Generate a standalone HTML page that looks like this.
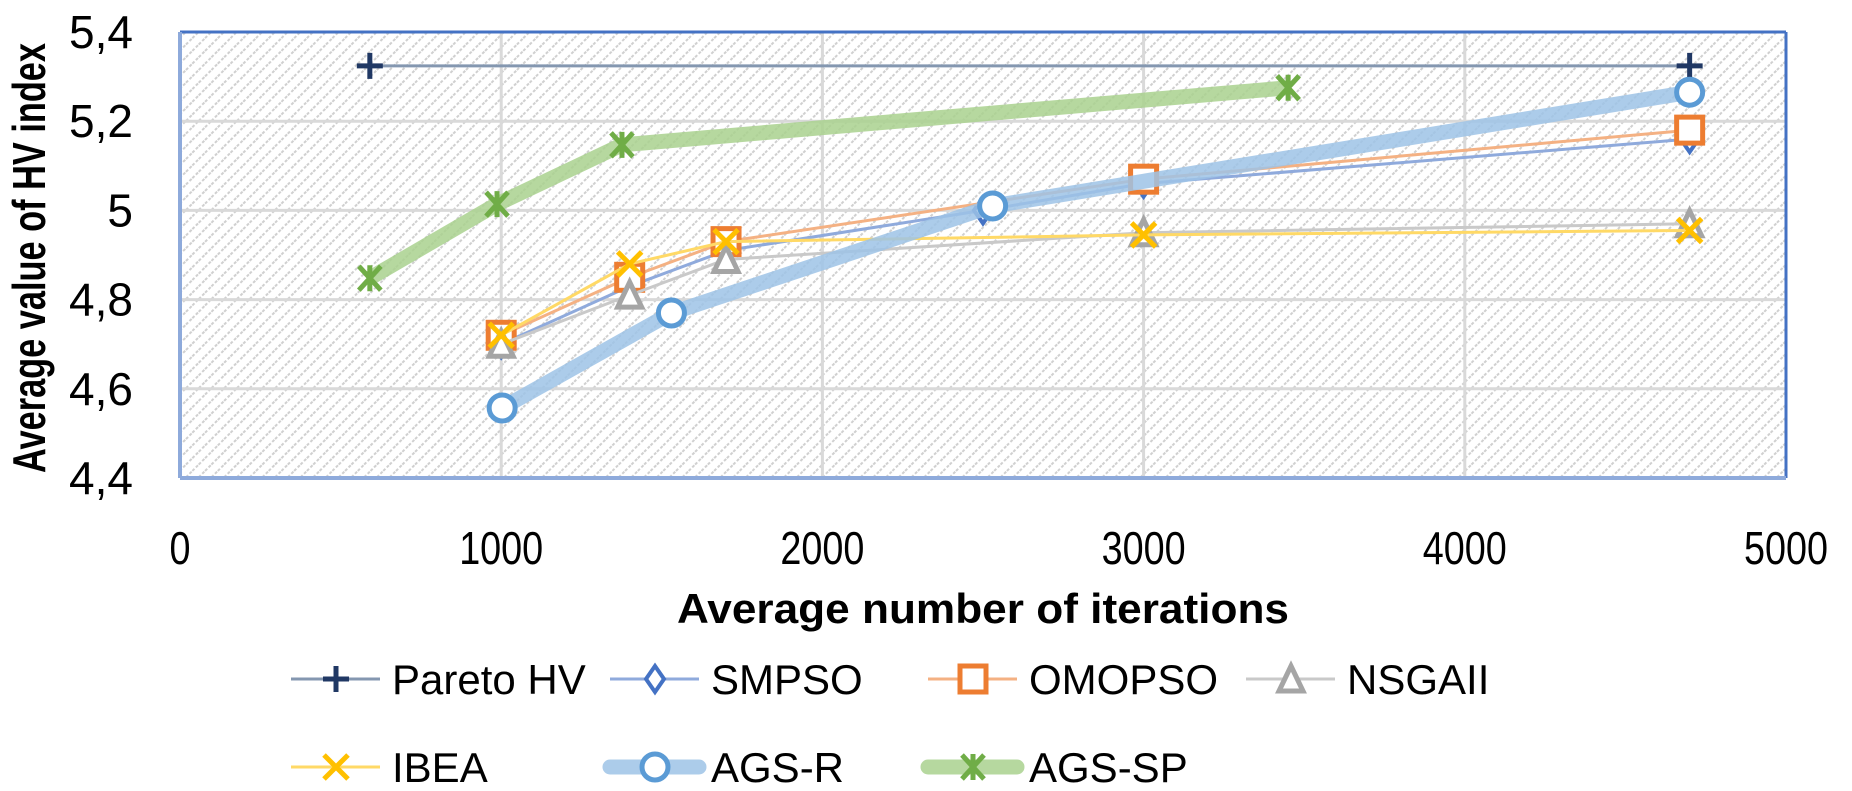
<!DOCTYPE html>
<html><head><meta charset="utf-8"><style>
html,body{margin:0;padding:0;background:#fff;}
svg{display:block;font-family:"Liberation Sans",sans-serif;}
</style></head><body>
<svg id="chart" width="1852" height="791" viewBox="0 0 1852 791">
<defs>
<pattern id="hatch" patternUnits="userSpaceOnUse" width="9" height="9" patternTransform="rotate(45)">
<rect width="9" height="9" fill="#fff"/>
<line x1="0" y1="0" x2="0" y2="9" stroke="#d0d0d0" stroke-width="4" stroke-dasharray="3 2"/>
</pattern>
</defs>
<g id="plot"></g>
</svg>
<script>
const xTicks=[0,1000,2000,3000,4000,5000];
const yTicks=[4.4,4.6,4.8,5.0,5.2,5.4];
const yTickLabels=["4,4","4,6","4,8","5","5,2","5,4"];
const seriesNames=["Pareto HV","SMPSO","OMOPSO","NSGAII","IBEA","AGS-R","AGS-SP"];
const paretoX=[591,4700], paretoY=[5.324,5.324];
const smpsoX=[1000,1400,1700,2500,3000,4700], smpsoY=[4.70,4.83,4.91,5.00,5.06,5.16];
const omopsoX=[1000,1400,1700,3000,4700], omopsoY=[4.72,4.85,4.93,5.07,5.18];
const nsgaX=[1000,1400,1700,3000,4700], nsgaY=[4.70,4.81,4.89,4.95,4.97];
const ibeaX=[1000,1400,1700,3000,4700], ibeaY=[4.72,4.88,4.93,4.945,4.955];
const agsrX=[1003,1530,2530,4700], agsrY=[4.557,4.77,5.01,5.265];
const agsspX=[591,987,1376,3450], agsspY=[4.848,5.014,5.147,5.275];

const L=180,R=1786,T=32,B=478;
const sx=v=>L+(v-0)/(5000-0)*(R-L);
const sy=v=>B-(v-4.4)/(5.4-4.4)*(B-T);
const NS="http://www.w3.org/2000/svg";
const g=document.getElementById('plot');
function mk(tag,attrs,parent){const e=document.createElementNS(NS,tag);for(const k in attrs)e.setAttribute(k,attrs[k]);(parent||g).appendChild(e);return e;}

const bg=mk('rect',{x:L,y:T,width:R-L,height:B-T,fill:'url(#hatch)'});


yTicks.forEach((v,i)=>{
  if(i>0&&i<yTicks.length-1){const l=mk('line',{x1:L,x2:R,y1:sy(v),y2:sy(v),stroke:'#d9d9d9','stroke-width':3});
  
  }
  const t=mk('text',{x:133,y:sy(v)+16,'text-anchor':'end','font-size':46,fill:'#000'});
  t.textContent=yTickLabels[i];
  
  
});
xTicks.forEach((v,i)=>{
  if(i>0&&i<xTicks.length-1){const l=mk('line',{y1:T,y2:B,x1:sx(v),x2:sx(v),stroke:'#d9d9d9','stroke-width':3});
  
  }
  const s=String(v);
  const t=mk('text',{x:sx(v),y:564,'text-anchor':'middle','font-size':46,fill:'#000',textLength:s.length*21,lengthAdjust:'spacingAndGlyphs'});
  t.textContent=s;
  
  
});
mk('line',{x1:L,y1:T,x2:R,y2:T,stroke:'#4472c4','stroke-width':3});
mk('line',{x1:R,y1:T,x2:R,y2:B,stroke:'#4472c4','stroke-width':3});
mk('line',{x1:L,y1:T,x2:L,y2:B,stroke:'#8eaadb','stroke-width':4});
mk('line',{x1:L,y1:B,x2:R,y2:B,stroke:'#8eaadb','stroke-width':4});

function marker(type,cx,cy,parent){
  const p=parent||g;
  if(type==='plus'){mk('path',{d:`M${cx-13} ${cy}H${cx+13}M${cx} ${cy-13}V${cy+13}`,stroke:'#203864','stroke-width':5,fill:'none'},p);}
  else if(type==='diamond'){mk('path',{d:`M${cx} ${cy-13}L${cx+9} ${cy}L${cx} ${cy+13}L${cx-9} ${cy}Z`,stroke:'#4472c4','stroke-width':4,fill:'#fff'},p);}
  else if(type==='square'){mk('rect',{x:cx-13,y:cy-13,width:26,height:26,stroke:'#ed7d31','stroke-width':5,fill:'#fff'},p);}
  else if(type==='tri'){mk('path',{d:`M${cx} ${cy-13}L${cx+12} ${cy+12}L${cx-12} ${cy+12}Z`,stroke:'#a5a5a5','stroke-width':5,fill:'#fff'},p);}
  else if(type==='x'){mk('path',{d:`M${cx-12} ${cy-12}L${cx+12} ${cy+12}M${cx+12} ${cy-12}L${cx-12} ${cy+12}`,stroke:'#ffc000','stroke-width':5,fill:'none'},p);}
  else if(type==='circle'){mk('circle',{cx:cx,cy:cy,r:13,stroke:'#5b9bd5','stroke-width':5,fill:'#fff'},p);}
  else if(type==='star'){mk('path',{d:`M${cx-11} ${cy-12}L${cx+11} ${cy+12}M${cx+11} ${cy-12}L${cx-11} ${cy+12}M${cx} ${cy-13}V${cy+13}`,stroke:'#70ad47','stroke-width':5,fill:'none'},p);}
}
const series=[
 {n:'pareto',xs:paretoX,ys:paretoY,c:'#8497b0',w:3,o:1,m:'plus'},
 {n:'smpso',xs:smpsoX,ys:smpsoY,c:'#8faadc',w:3,o:1,m:'diamond'},
 {n:'omopso',xs:omopsoX,ys:omopsoY,c:'#f4b183',w:3,o:1,m:'square'},
 {n:'nsgaii',xs:nsgaX,ys:nsgaY,c:'#c9c9c9',w:3,o:1,m:'tri'},
 {n:'ibea',xs:ibeaX,ys:ibeaY,c:'#ffd966',w:3,o:1,m:'x'},
 {n:'ags-r',xs:agsrX,ys:agsrY,c:'#9dc3e6',w:15,o:0.85,m:'circle'},
 {n:'ags-sp',xs:agsspX,ys:agsspY,c:'#a9d18e',w:15,o:0.85,m:'star'}
];
series.forEach(s=>{
  const grp=mk('g',{});
  
  
  const pts=s.xs.map((x,i)=>sx(x)+','+sy(s.ys[i])).join(' ');
  mk('polyline',{points:pts,fill:'none',stroke:s.c,'stroke-width':s.w,'stroke-opacity':s.o,'stroke-linejoin':'round'},grp);
  s.xs.forEach((x,i)=>marker(s.m,sx(x),sy(s.ys[i]),grp));
});

// axis titles
const xt=mk('text',{x:(L+R)/2,y:623,'text-anchor':'middle','font-size':42,'font-weight':'bold',fill:'#000',textLength:612,lengthAdjust:'spacingAndGlyphs'});
xt.textContent='Average number of iterations';


const yt=mk('text',{x:0,y:0,'text-anchor':'middle','font-size':46,'font-weight':'bold',fill:'#000',textLength:430,lengthAdjust:'spacingAndGlyphs',transform:'translate(45,258) rotate(-90)'});
yt.textContent='Average value of HV index';



// legend
const legCols=[291,610,928,1246];
const legRows=[679,767];
series.forEach((s,i)=>{
  const cx=legCols[i%4], cy=legRows[Math.floor(i/4)];
  const lg=mk('g',{});
  
  
  mk('line',{x1:cx,x2:cx+89,y1:cy,y2:cy,stroke:s.c,'stroke-width':s.w>5?15:3,'stroke-opacity':s.o,'stroke-linecap':s.w>5?'round':'butt'},lg);
  marker(s.m,cx+45,cy,lg);
  const t=mk('text',{x:cx+101,y:cy+15,'font-size':42,fill:'#000'},lg);
  t.textContent=seriesNames[i];
});
</script>
</body></html>
